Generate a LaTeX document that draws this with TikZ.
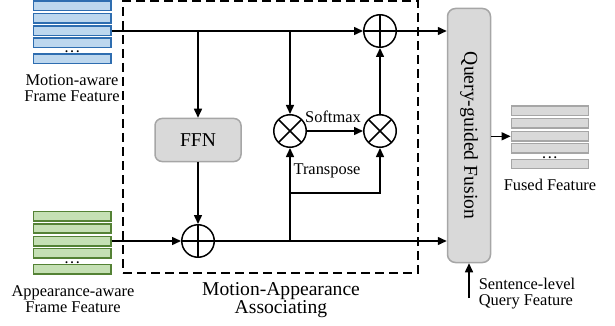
\documentclass[tikz,border=0pt]{standalone}
\usepackage{fontspec}
\setmainfont{Liberation Serif}
\usetikzlibrary{arrows.meta}
\definecolor{bfill}{HTML}{BDD7EE}
\definecolor{bdraw}{HTML}{2E6DB0}
\definecolor{gfill}{HTML}{C5E0B4}
\definecolor{gdraw}{HTML}{548235}
\definecolor{kfill}{HTML}{D9D9D9}
\definecolor{kdraw}{HTML}{A6A6A6}
\newcommand\tfsmall{\fontsize{16.4}{16}\selectfont}
\newcommand\tfbig{\fontsize{19.6}{18.5}\selectfont}
\begin{document}
\begin{tikzpicture}[x=1pt,y=-1pt,
  line width=1.5pt,
  arr/.style={-{Triangle[length=9pt,width=8pt]}},
  mbar/.style={draw=bdraw,fill=bfill,line width=1.6pt,minimum width=77.4pt,minimum height=9.4pt,inner sep=0pt},
  gbar/.style={draw=gdraw,fill=gfill,line width=1.6pt,minimum width=77.4pt,minimum height=9.4pt,inner sep=0pt},
  kbar/.style={draw=kdraw,fill=kfill,line width=1.4pt,minimum width=77pt,minimum height=9.3pt,inner sep=0pt},
  dotsnode/.style={inner sep=0pt,font=\bfseries\fontsize{12}{12}\selectfont},
  lbl/.style={inner sep=0pt,align=center,font=\tfsmall},
  lblbig/.style={inner sep=0pt,align=center,font=\tfbig},
  gbox/.style={draw=kdraw,fill=kfill,line width=1.5pt,inner sep=0pt},
  dbox/.style={draw,line width=2pt,dash pattern=on 9pt off 5pt,inner sep=0pt},
  opp/.style={circle,draw,line width=1.5pt,minimum size=32.5pt,inner sep=0pt,
    path picture={\draw[line width=1.5pt] (path picture bounding box.north) -- (path picture bounding box.south)
      (path picture bounding box.west) -- (path picture bounding box.east);}},
  opx/.style={circle,draw,line width=1.5pt,minimum size=32.5pt,inner sep=0pt,
    path picture={\draw[line width=1.5pt] (path picture bounding box.north west) -- (path picture bounding box.south east)
      (path picture bounding box.north east) -- (path picture bounding box.south west);}}
]
\useasboundingbox (0,0) rectangle (615,326);

% dashed association box
\node[dbox,minimum width=295pt,minimum height=272pt] (mabox) at (270.5,137) {};

% motion-aware feature stack
\node[mbar] (m1) at (72.2,5.8) {};
\node[mbar] (m2) at (72.2,18.2) {};
\node[mbar] (m3) at (72.2,31) {};
\node[mbar] (m4) at (72.2,42.8) {};
\node[dotsnode,anchor=base] (md) at (72.2,52.6) {.\kern2.6pt.\kern2.6pt.};
\node[mbar] (m5) at (72.2,58.8) {};
\node[lbl,anchor=base] (mlab) at (72,101.7) {Motion-aware\\Frame Feature};

% appearance-aware feature stack
\node[gbar] (g1) at (72.2,216) {};
\node[gbar] (g2) at (72.2,228.4) {};
\node[gbar] (g3) at (72.2,241) {};
\node[gbar] (g4) at (72.2,253.2) {};
\node[dotsnode,anchor=base] (gd) at (72.2,263) {.\kern2.6pt.\kern2.6pt.};
\node[gbar] (g5) at (72.2,269.2) {};
\node[lbl,anchor=base] (alab) at (73,312) {Appearance-aware\\Frame Feature};

% FFN and operators
\node[gbox,minimum width=86pt,minimum height=43pt,rounded corners=7pt,font=\tfbig] (ffn) at (198,140) {FFN};
\node[opp] (plusB) at (198,241) {};
\node[opp] (plusT) at (380,31) {};
\node[opx] (timesL) at (290,131) {};
\node[opx] (timesR) at (380,131) {};

% fusion box
\node[gbox,minimum width=43pt,minimum height=254pt,rounded corners=8pt] (fus) at (469,135.5) {};
\node[rotate=-90,inner sep=0pt,font=\tfbig] (fustxt) at (fus.center) {Query-guided Fusion};

% fused feature stack
\node[kbar] (f1) at (549.8,110.8) {};
\node[kbar] (f2) at (549.8,123.3) {};
\node[kbar] (f3) at (549.8,136.3) {};
\node[kbar] (f4) at (549.8,148.3) {};
\node[dotsnode,anchor=base] (fd) at (549.8,158.6) {.\kern2.6pt.\kern2.6pt.};
\node[kbar] (f5) at (549.8,164) {};
\node[lbl,anchor=base] (flab) at (550,190.5) {Fused Feature};

% labels
\node[lblbig,anchor=base] (malab) at (281,313.5) {Motion-Appearance\\Associating};
\node[lbl,anchor=base] (smx) at (333,123) {Softmax};
\node[lbl,anchor=base] (tps) at (327,174) {Transpose};
\node[lbl,anchor=base west,align=left] (qlab) at (478,305) {Sentence-level\\Query Feature};

% connectors
\coordinate (br) at (290,193);
\coordinate (qs) at (469,298);
\draw[arr] (m3.east) -- (plusT.west);
\draw[arr] (ffn.north |- m3.east) -- (ffn.north);
\draw[arr] (ffn.south) -- (plusB.north);
\draw[arr] (g3.east) -- (plusB.west);
\draw[arr] (plusB.east) -- (fus.west |- plusB.east);
\draw[arr] (plusT.east) -- (fus.west |- plusT.east);
\draw[arr] (timesL.north |- m3.east) -- (timesL.north);
\draw[arr] (timesL.east) -- (timesR.west);
\draw[arr] (timesR.north) -- (plusT.south);
\draw[arr] (timesL.south |- plusB.east) -- (timesL.south);
\draw[arr] (br) -| (timesR.south);
\draw[arr] (fus.east |- f3.west) -- (f3.west);
\draw[arr] (qs) -- (fus.south);
\end{tikzpicture}
\end{document}
